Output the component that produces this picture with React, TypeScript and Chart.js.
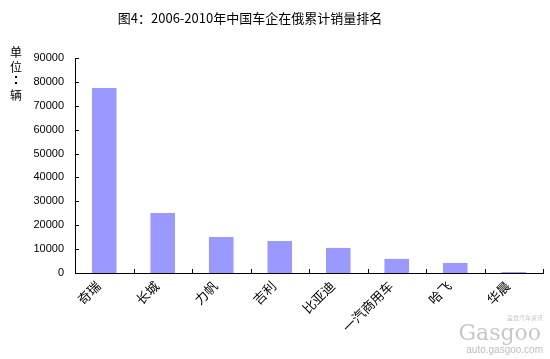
import React, { useEffect, useRef } from "react";
import { Chart, registerables } from "chart.js";

Chart.register(...registerables);

const categories = ["奇瑞", "长城", "力帆", "吉利", "比亚迪", "一汽商用车", "哈飞", "华晨"];
const sales = [77400, 25100, 15100, 13400, 10500, 5900, 4200, 400];
const yTicks = [0, 10000, 20000, 30000, 40000, 50000, 60000, 70000, 80000, 90000];
const titleText = "图4：2006-2010年中国车企在俄累计销量排名";
const yTitleChars = ["单", "位", "：", "辆"];

const CJK = '"Noto Sans CJK SC", "Liberation Sans", sans-serif';
const NUM = '"Liberation Sans", Arial, sans-serif';

const decorPlugin = {
  id: "decor",
  afterDraw(chart: any) {
    const ctx = chart.ctx;
    const xs = chart.scales.x;
    const ys = chart.scales.y;
    const area = chart.chartArea;
    ctx.save();
    // inward tick marks
    ctx.strokeStyle = "#000";
    ctx.lineWidth = 1;
    ctx.beginPath();
    yTicks.forEach((v) => {
      const y = Math.round(ys.getPixelForValue(v)) + 0.5;
      ctx.moveTo(area.left, y);
      ctx.lineTo(area.left + 4, y);
    });
    for (let i = 0; i <= categories.length; i++) {
      const x =
        i < categories.length
          ? xs.getPixelForValue(i) - (xs.getPixelForValue(1) - xs.getPixelForValue(0)) / 2
          : area.right;
      const px = Math.round(x) + 0.5;
      ctx.moveTo(px, area.bottom);
      ctx.lineTo(px, area.bottom - 4);
    }
    ctx.stroke();

    ctx.fillStyle = "#000";
    ctx.textAlign = "center";
    ctx.textBaseline = "middle";
    ctx.font = `13px ${CJK}`;
    ctx.fillText(titleText, 250, 18);
    ctx.font = `12px ${CJK}`;
    const ty = [52, 67, 80, 95];
    yTitleChars.forEach((c, i) => {
      if (c === "：") {
        ctx.fillRect(15, ty[i] - 4, 2, 2);
        ctx.fillRect(15, ty[i] + 2, 2, 2);
      } else {
        ctx.fillText(c, 16, ty[i]);
      }
    });
    // watermark
    ctx.textAlign = "right";
    ctx.fillStyle = "#c8c8c8";
    ctx.font = `6px ${CJK}`;
    ctx.fillText("盖世汽车资讯", 543, 318);
    ctx.fillStyle = "#c4c8cc";
    ctx.font = `22px "DejaVu Serif", serif`;
    ctx.fillText("Gasgoo", 541, 334);
    ctx.fillStyle = "#bdbdbd";
    ctx.font = `10px ${NUM}`;
    ctx.fillText("auto.gasgoo.com", 543, 350);
    ctx.restore();
  },
};

export default function App() {
  const ref = useRef<HTMLCanvasElement>(null);
  useEffect(() => {
    document.body.style.margin = "0";
    const chart = new Chart(ref.current!, {
      type: "bar",
      data: {
        labels: categories,
        datasets: [
          {
            data: sales,
            backgroundColor: "#9999FF",
            borderWidth: 0,
            categoryPercentage: 1,
            barPercentage: 0.42,
          },
        ],
      },
      options: {
        animation: false,
        responsive: false,
        maintainAspectRatio: false,
        layout: { padding: { top: 58, right: 7, left: 0, bottom: 0 } },
        plugins: { legend: { display: false }, tooltip: { enabled: false } },
        scales: {
          x: {
            grid: { display: false, drawTicks: false },
            border: { display: true, color: "#000", width: 1 },
            ticks: {
              minRotation: 45,
              maxRotation: 45,
              autoSkip: false,
              padding: 5,
              labelOffset: -6,
              color: "#000",
              font: { family: CJK, size: 13 },
            },
            afterFit(scale: any) {
              scale.height = 86;
            },
          },
          y: {
            min: 0,
            max: 90000,
            afterBuildTicks(scale: any) {
              scale.ticks = yTicks.map((v) => ({ value: v }));
            },
            grid: { display: false, drawTicks: false },
            border: { display: true, color: "#000", width: 1 },
            ticks: {
              padding: 11,
              color: "#000",
              font: { family: NUM, size: 11 },
              callback: (v: any) => String(v),
            },
            afterFit(scale: any) {
              scale.width = 75;
            },
          },
        },
      },
      plugins: [decorPlugin],
    });
    return () => chart.destroy();
  }, []);
  return (
    <div style={{ position: "absolute", left: 0, top: 0, width: 550, height: 359, background: "#fff" }}>
      <canvas ref={ref} width={550} height={359} style={{ width: 550, height: 359 }} />
    </div>
  );
}
